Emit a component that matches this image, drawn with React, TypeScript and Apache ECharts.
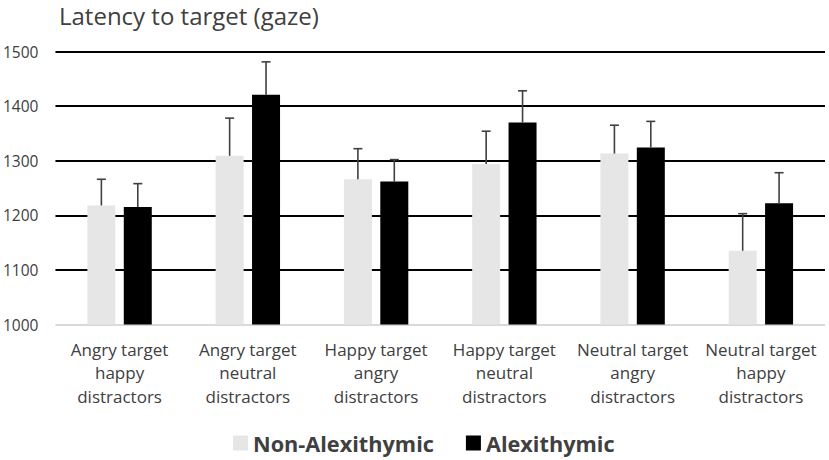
import React, { useEffect, useRef } from "react";
import * as echarts from "echarts";

const categories = [
  "Angry target\nhappy\ndistractors",
  "Angry target\nneutral\ndistractors",
  "Happy target\nangry\ndistractors",
  "Happy target\nneutral\ndistractors",
  "Neutral target\nangry\ndistractors",
  "Neutral target\nhappy\ndistractors",
];
const nonAlexValues = [1218, 1309, 1266, 1294, 1313, 1135];
const nonAlexErrors = [48, 69, 56, 60, 52, 68];
const alexValues = [1215, 1421, 1262, 1370, 1324, 1222];
const alexErrors = [43, 60, 40, 58, 48, 56];
const yTicks = { min: 1000, max: 1500, interval: 100 };

const FONT = "Open Sans";
const BAR_W = 28;
const BAR_GAP = 8.4;
const OFFSET = (BAR_W + BAR_GAP) / 2;

function errorSeries(name: string, values: number[], errors: number[], offset: number) {
  return {
    type: "custom",
    name: name + " err",
    z: 5,
    silent: true,
    renderItem: (params: any, api: any) => {
      const idx = api.value(0);
      const top = api.value(1);
      const base = api.value(2);
      const p1 = api.coord([idx, base]);
      const p2 = api.coord([idx, top]);
      const x = p1[0] + offset;
      const style = { stroke: "#404040", lineWidth: 1.6 };
      return {
        type: "group",
        children: [
          { type: "line", shape: { x1: x, y1: p1[1], x2: x, y2: p2[1] }, style },
          { type: "line", shape: { x1: x - 4.5, y1: p2[1], x2: x + 4.5, y2: p2[1] }, style },
        ],
      };
    },
    data: values.map((v, i) => [i, v + errors[i], v]),
  };
}

export default function App() {
  const ref = useRef<HTMLDivElement>(null);
  useEffect(() => {
    const chart = echarts.init(ref.current!, null, { renderer: "svg" });
    chart.setOption({
      animation: false,
      title: {
        text: "Latency to target (gaze)",
        left: 54,
        top: -2,
        textStyle: { fontFamily: FONT, fontSize: 24, fontWeight: "normal", color: "#404040" },
      },
      legend: {
        data: ["Non-Alexithymic", "Alexithymic"],
        left: 228,
        top: 427,
        icon: "rect",
        itemWidth: 15,
        itemHeight: 15,
        itemGap: 32,
        textStyle: { fontFamily: FONT, fontSize: 21.7, fontWeight: "bold", color: "#404040" },
      },
      grid: { left: 55, right: 4, top: 51.5, bottom: 135.5, containLabel: false },
      xAxis: {
        type: "category",
        data: categories,
        axisLine: { show: false },
        axisTick: { show: false },
        axisLabel: {
          interval: 0,
          margin: 13,
          fontFamily: FONT,
          fontSize: 17,
          lineHeight: 23.5,
          color: "#404040",
        },
      },
      yAxis: {
        type: "value",
        min: yTicks.min,
        max: yTicks.max,
        interval: yTicks.interval,
        axisLine: { show: false },
        axisTick: { show: false },
        axisLabel: {
          margin: 17,
          fontFamily: FONT,
          fontSize: 15.5,
          color: "#404040",
          formatter: (v: number) => String(v),
        },
        splitLine: {
          show: true,
          lineStyle: { color: ["#d9d9d9", "#000", "#000", "#000", "#000", "#000"], width: 2 },
        },
      },
      series: [
        {
          type: "bar",
          name: "Non-Alexithymic",
          data: nonAlexValues,
          barWidth: BAR_W,
          barGap: (BAR_GAP / BAR_W) * 100 + "%",
          itemStyle: { color: "#e6e6e6" },
        },
        {
          type: "bar",
          name: "Alexithymic",
          data: alexValues,
          barWidth: BAR_W,
          itemStyle: { color: "#000000" },
        },
        errorSeries("Non-Alexithymic", nonAlexValues, nonAlexErrors, -OFFSET),
        errorSeries("Alexithymic", alexValues, alexErrors, OFFSET),
      ],
    });
    return () => chart.dispose();
  }, []);
  return (
    <div
      ref={ref}
      style={{ position: "fixed", left: 0, top: 0, width: 829, height: 460, background: "#fff" }}
    />
  );
}
